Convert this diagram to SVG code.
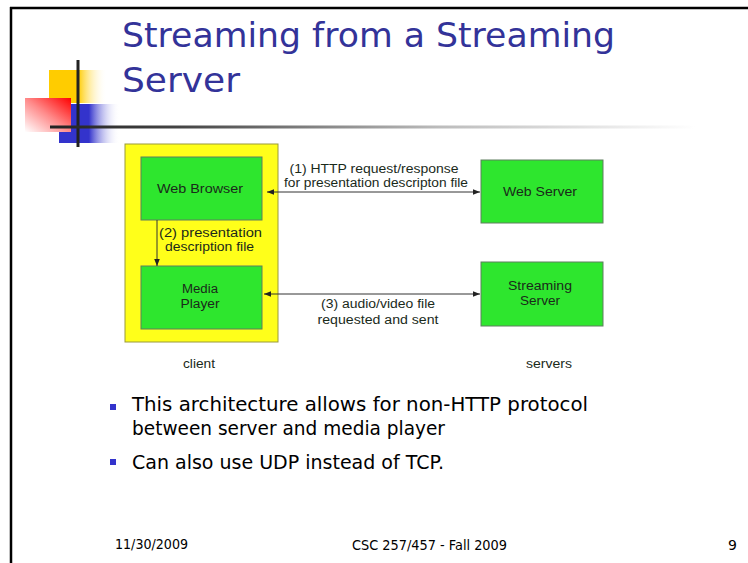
<svg xmlns="http://www.w3.org/2000/svg" width="748" height="563" viewBox="0 0 748 563">
<defs>
<linearGradient id="gY" x1="0" y1="0" x2="1" y2="0"><stop offset="0" stop-color="#FFCC00"/><stop offset="0.5" stop-color="#FFCC00"/><stop offset="1" stop-color="#FFFFFF" stop-opacity="0"/></linearGradient>
<linearGradient id="gB" x1="0" y1="0" x2="1" y2="0"><stop offset="0" stop-color="#3333CC"/><stop offset="0.49" stop-color="#3333CC"/><stop offset="1" stop-color="#FFFFFF" stop-opacity="0"/></linearGradient>
<linearGradient id="gR" x1="1" y1="0" x2="0" y2="1"><stop offset="0" stop-color="#FF0000"/><stop offset="0.5" stop-color="#FF8A8A"/><stop offset="1" stop-color="#FFFFFF"/></linearGradient>
<linearGradient id="gL" gradientUnits="userSpaceOnUse" x1="50" y1="127" x2="695" y2="127"><stop offset="0" stop-color="#222222"/><stop offset="0.2" stop-color="#444444"/><stop offset="0.6" stop-color="#BBBBBB"/><stop offset="1" stop-color="#FFFFFF"/></linearGradient>
<marker id="ah" viewBox="0 0 10 10" refX="10" refY="5" markerWidth="7" markerHeight="7" markerUnits="userSpaceOnUse" orient="auto-start-reverse"><path d="M0,1 L10,5 L0,9 Z" fill="#222"/></marker>
</defs>
<style>
.title{font-family:"DejaVu Sans",sans-serif;font-size:34px;fill:#333399}
.bul{font-family:"DejaVu Sans",sans-serif;font-size:20px;fill:#000}
.foot{font-family:"DejaVu Sans","Liberation Sans",sans-serif;font-size:14px;fill:#000}
.box{fill:#2EE62E;stroke:#5F7F5F;stroke-width:1}
.lbl{font-family:"Liberation Sans",Arial,sans-serif;font-size:12px;fill:#1A2A1A}
.conn{stroke:#333;stroke-width:1;fill:none}
</style>
<rect x="0" y="0" width="748" height="563" fill="#FFFFFF"/>
<line x1="10" y1="8" x2="748" y2="8" stroke="#000" stroke-width="2.5"/>
<line x1="11" y1="7" x2="11" y2="563" stroke="#000" stroke-width="2.5"/>
<g id="logo">
<rect x="49" y="70" width="58" height="33" fill="url(#gY)"/>
<rect x="59" y="104" width="61" height="39" fill="url(#gB)"/>
<rect x="25" y="98" width="46" height="34" fill="url(#gR)"/>
<line x1="78" y1="60" x2="78" y2="147" stroke="#222" stroke-width="3"/>
<line x1="50" y1="127" x2="695" y2="127" stroke="url(#gL)" stroke-width="3"/>
</g>
<g id="title">
<text class="title" x="122" y="47" textLength="493" lengthAdjust="spacingAndGlyphs">Streaming from a Streaming</text>
<text class="title" x="122" y="92" textLength="118" lengthAdjust="spacingAndGlyphs">Server</text>
</g>
<g id="client">
<rect x="125" y="144" width="153" height="198" fill="#FFFF1A" stroke="#9A9A3A" stroke-width="1"/>
<text class="lbl" x="199" y="368" text-anchor="middle" textLength="32" lengthAdjust="spacingAndGlyphs">client</text>
</g>
<g id="web-browser">
<rect class="box" x="141" y="157" width="121" height="63"/>
<text class="lbl" x="200" y="193" text-anchor="middle" textLength="86" lengthAdjust="spacingAndGlyphs">Web Browser</text>
</g>
<g id="media-player">
<rect class="box" x="141" y="266" width="121" height="63"/>
<text class="lbl" x="200" y="293" text-anchor="middle" textLength="36" lengthAdjust="spacingAndGlyphs">Media</text>
<text class="lbl" x="200" y="308" text-anchor="middle" textLength="39" lengthAdjust="spacingAndGlyphs">Player</text>
</g>
<g id="web-server">
<rect class="box" x="481" y="160" width="122" height="63"/>
<text class="lbl" x="540" y="196" text-anchor="middle" textLength="74" lengthAdjust="spacingAndGlyphs">Web Server</text>
</g>
<g id="streaming-server">
<rect class="box" x="481" y="262" width="122" height="64"/>
<text class="lbl" x="540" y="290" text-anchor="middle" textLength="64" lengthAdjust="spacingAndGlyphs">Streaming</text>
<text class="lbl" x="540" y="305" text-anchor="middle" textLength="40" lengthAdjust="spacingAndGlyphs">Server</text>
</g>
<g id="servers-label">
<text class="lbl" x="549" y="368" text-anchor="middle" textLength="46" lengthAdjust="spacingAndGlyphs">servers</text>
</g>
<g id="connectors">
<line class="conn" x1="267" y1="192" x2="480" y2="192" marker-start="url(#ah)" marker-end="url(#ah)"/>
<line class="conn" x1="157" y1="220" x2="157" y2="266" marker-end="url(#ah)"/>
<line class="conn" x1="264" y1="294" x2="480" y2="294" marker-start="url(#ah)" marker-end="url(#ah)"/>
<text class="lbl" x="374" y="173" text-anchor="middle" textLength="169" lengthAdjust="spacingAndGlyphs">(1) HTTP request/response</text>
<text class="lbl" x="376" y="187" text-anchor="middle" textLength="184" lengthAdjust="spacingAndGlyphs">for presentation descripton file</text>
<text class="lbl" x="159" y="237" textLength="103" lengthAdjust="spacingAndGlyphs">(2)  presentation</text>
<text class="lbl" x="165" y="251" textLength="89" lengthAdjust="spacingAndGlyphs">description file</text>
<text class="lbl" x="378" y="308" text-anchor="middle" textLength="114" lengthAdjust="spacingAndGlyphs">(3) audio/video file</text>
<text class="lbl" x="378" y="324" text-anchor="middle" textLength="121" lengthAdjust="spacingAndGlyphs">requested and sent</text>
</g>
<g id="bullets">
<rect x="110" y="404" width="6" height="6" fill="#3333CC"/>
<text class="bul" x="132" y="411" textLength="456" lengthAdjust="spacingAndGlyphs">This architecture allows for non-HTTP protocol</text>
<text class="bul" x="132" y="435" textLength="313" lengthAdjust="spacingAndGlyphs">between server and media player</text>
<rect x="110" y="459" width="6" height="6" fill="#3333CC"/>
<text class="bul" x="132" y="469" textLength="312" lengthAdjust="spacingAndGlyphs">Can also use UDP instead of TCP.</text>
</g>
<g id="footer">
<text class="foot" x="115" y="549" textLength="73" lengthAdjust="spacingAndGlyphs">11/30/2009</text>
<text class="foot" x="352" y="550" textLength="155" lengthAdjust="spacingAndGlyphs">CSC 257/457 - Fall 2009</text>
<text class="foot" x="728" y="550">9</text>
</g>
</svg>
